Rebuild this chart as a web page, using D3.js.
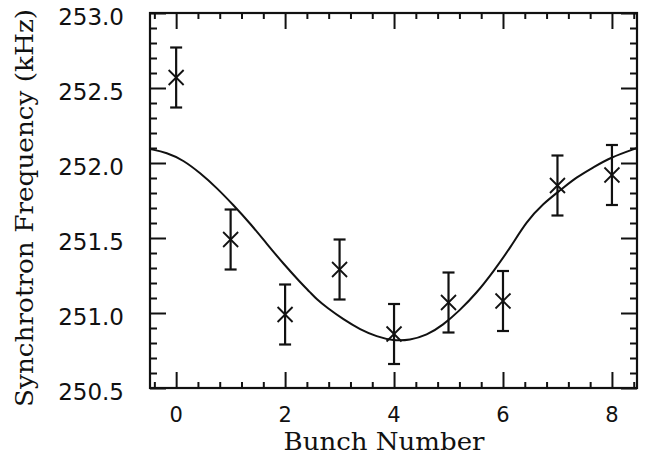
<!DOCTYPE html>
<html>
<head>
<meta charset="utf-8">
<script src="https://cdn.jsdelivr.net/npm/d3@7"></script>
<style>
  html, body { margin: 0; padding: 0; background: #fff; }
  svg { display: block; }
</style>
</head>
<body>
<svg id="chart" width="653" height="457"></svg>
<script>
// ---- data ----
const bunches = [0, 1, 2, 3, 4, 5, 6, 7, 8];
const freqKHz = [252.57, 251.49, 250.99, 251.29, 250.86, 251.07, 251.08, 251.85, 251.92];
const errKHz  = [0.20, 0.20, 0.20, 0.20, 0.20, 0.20, 0.20, 0.20, 0.20];

// fitted curve, points
const fitX = [-0.48, -0.17, 0.13, 0.44, 0.75, 1.05, 1.36, 1.66, 1.97, 2.28, 2.46, 2.58, 2.77, 3.07, 3.38, 3.68, 3.99, 4.29, 4.60, 4.90, 5.20, 5.52, 5.82, 6.13, 6.43, 6.74, 7.05, 7.35, 7.66, 7.96, 8.46];
const fitY = [252.093, 252.070, 252.019, 251.934, 251.833, 251.720, 251.597, 251.463, 251.328, 251.204, 251.138, 251.091, 251.035, 250.957, 250.889, 250.843, 250.815, 250.819, 250.851, 250.920, 251.015, 251.135, 251.275, 251.433, 251.610, 251.730, 251.818, 251.906, 251.971, 252.035, 252.100];

const xMajorTicks = [0, 2, 4, 6, 8];
const xMinorTicks = [-0.4, 0.4, 0.8, 1.2, 1.6, 2.4, 2.8, 3.2, 3.6, 4.4, 4.8, 5.2, 5.6, 6.4, 6.8, 7.2, 7.6, 8.4];
const yMajorTicks = [250.5, 251.0, 251.5, 252.0, 252.5, 253.0];
const yMinorTicks = [250.6, 250.7, 250.8, 250.9, 251.1, 251.2, 251.3, 251.4, 251.6, 251.7, 251.8, 251.9, 252.1, 252.2, 252.3, 252.4, 252.6, 252.7, 252.8, 252.9];

const xTitle = "Bunch Number";
const yTitle = "Synchrotron Frequency (kHz)";

// ---- layout ----
const L = 150, R = 637, T = 13, B = 388;
const svg = d3.select("#chart");
const x = d3.scaleLinear().domain([-0.48, 8.46]).range([L, R]);
const y = d3.scaleLinear().domain([250.5, 253.0]).range([B, T]);

const ink = "#111";
const major = 16, minor = 6;

// axes via d3 axis generators, ticks pointing inward
function addAxis(gen, transform, values, size) {
  const g = svg.append("g").attr("transform", transform)
    .call(gen.tickValues(values).tickSizeInner(-size).tickSizeOuter(0).tickFormat(""));
  g.select(".domain").remove();
  g.selectAll(".tick line").attr("stroke", ink).attr("stroke-width", 2);
  return g;
}
addAxis(d3.axisBottom(x), `translate(0,${B})`, xMajorTicks, major);
addAxis(d3.axisBottom(x), `translate(0,${B})`, xMinorTicks, minor);
addAxis(d3.axisTop(x), `translate(0,${T})`, xMajorTicks, major);
addAxis(d3.axisTop(x), `translate(0,${T})`, xMinorTicks, minor);
addAxis(d3.axisLeft(y), `translate(${L},0)`, yMajorTicks, major);
addAxis(d3.axisLeft(y), `translate(${L},0)`, yMinorTicks, minor + 1);
addAxis(d3.axisRight(y), `translate(${R},0)`, yMajorTicks, major);
addAxis(d3.axisRight(y), `translate(${R},0)`, yMinorTicks, minor + 1);

// frame
svg.append("rect")
  .attr("x", L).attr("y", T).attr("width", R - L).attr("height", B - T)
  .attr("fill", "none").attr("stroke", ink).attr("stroke-width", 2.2);

// tick labels
svg.append("g").selectAll("text").data(xMajorTicks).join("text")
  .attr("x", d => x(d)).attr("y", 422)
  .attr("text-anchor", "middle")
  .attr("font-family", "DejaVu Sans").attr("font-size", 21).attr("fill", ink)
  .text(d => d3.format("d")(d));

svg.append("g").selectAll("text").data(yMajorTicks).join("text")
  .attr("x", 124).attr("y", d => y(d) + 12)
  .attr("text-anchor", "end")
  .attr("font-family", "DejaVu Sans").attr("font-size", 23).attr("fill", ink)
  .text(d => d3.format(".1f")(d));

// titles
svg.append("text")
  .attr("x", 384).attr("y", 450)
  .attr("text-anchor", "middle")
  .attr("font-family", "DejaVu Serif").attr("font-size", 25).attr("fill", ink)
  .attr("textLength", 201).attr("lengthAdjust", "spacingAndGlyphs")
  .text(xTitle);

svg.append("text")
  .attr("transform", "translate(33,208) rotate(-90)")
  .attr("text-anchor", "middle")
  .attr("font-family", "DejaVu Serif").attr("font-size", 25).attr("fill", ink)
  .attr("textLength", 398).attr("lengthAdjust", "spacingAndGlyphs")
  .text(yTitle);

// fitted curve
const fit = fitX.map((d, i) => [d, fitY[i]]);
svg.append("path")
  .datum(fit)
  .attr("fill", "none").attr("stroke", ink).attr("stroke-width", 2)
  .attr("d", d3.line().x(d => x(d[0])).y(d => y(d[1])).curve(d3.curveBasis));

// error bars + X markers
const pts = bunches.map((b, i) => ({ b, v: freqKHz[i], e: errKHz[i] }));
const gp = svg.append("g").attr("stroke", ink).attr("fill", "none");
const cap = 6, mk = 7.5;
gp.selectAll(".eb").data(pts).join("line")
  .attr("x1", d => x(d.b)).attr("x2", d => x(d.b))
  .attr("y1", d => y(d.v + d.e)).attr("y2", d => y(d.v - d.e))
  .attr("stroke-width", 2.2);
gp.selectAll(".ct").data(pts).join("line")
  .attr("x1", d => x(d.b) - cap).attr("x2", d => x(d.b) + cap)
  .attr("y1", d => y(d.v + d.e)).attr("y2", d => y(d.v + d.e))
  .attr("stroke-width", 2.2);
gp.selectAll(".cb").data(pts).join("line")
  .attr("x1", d => x(d.b) - cap).attr("x2", d => x(d.b) + cap)
  .attr("y1", d => y(d.v - d.e)).attr("y2", d => y(d.v - d.e))
  .attr("stroke-width", 2.2);
gp.selectAll(".m1").data(pts).join("line")
  .attr("x1", d => x(d.b) - mk).attr("x2", d => x(d.b) + mk)
  .attr("y1", d => y(d.v) - mk).attr("y2", d => y(d.v) + mk)
  .attr("stroke-width", 1.8);
gp.selectAll(".m2").data(pts).join("line")
  .attr("x1", d => x(d.b) - mk).attr("x2", d => x(d.b) + mk)
  .attr("y1", d => y(d.v) + mk).attr("y2", d => y(d.v) - mk)
  .attr("stroke-width", 1.8);
</script>
</body>
</html>
